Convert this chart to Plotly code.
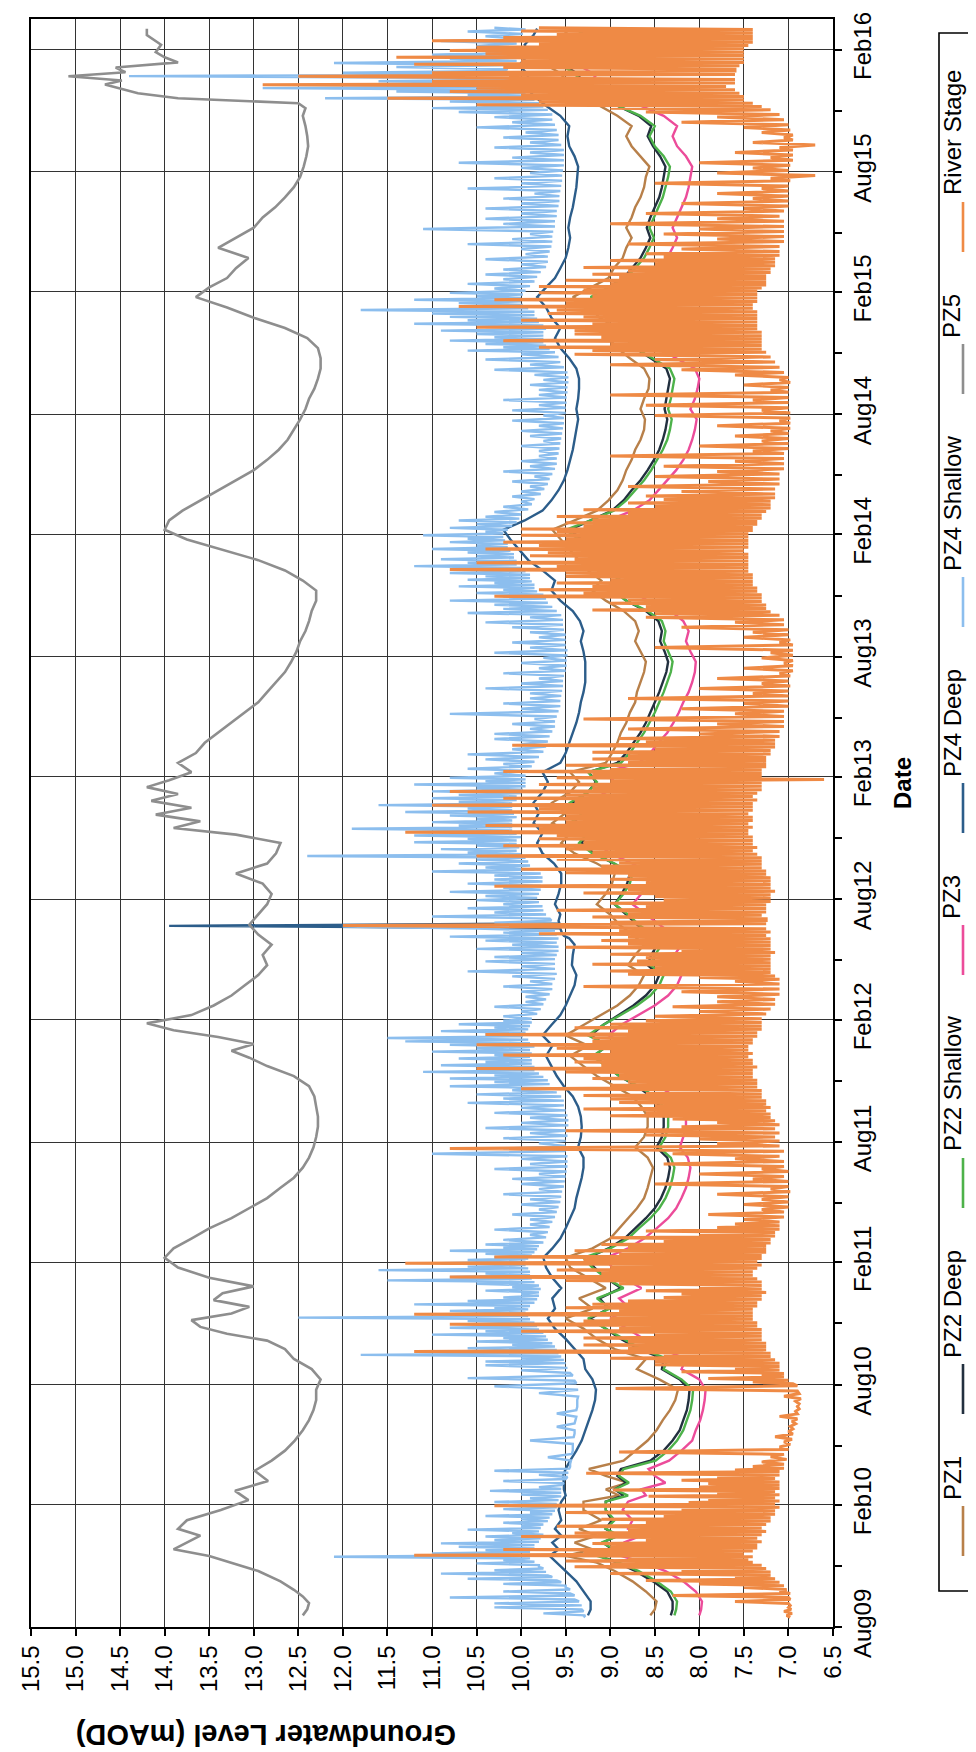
import plotly.graph_objects as go
from datetime import datetime, timedelta

# ---------------- data (one string per month) -------------
MONTHS = [
    "2009-08", "2009-09", "2009-10", "2009-11", "2009-12",
    "2010-01", "2010-02", "2010-03", "2010-04", "2010-05", "2010-06", "2010-07", "2010-08", "2010-09", "2010-10", "2010-11", "2010-12",
    "2011-01", "2011-02", "2011-03", "2011-04", "2011-05", "2011-06", "2011-07", "2011-08", "2011-09", "2011-10", "2011-11", "2011-12",
    "2012-01", "2012-02", "2012-03", "2012-04", "2012-05", "2012-06", "2012-07", "2012-08", "2012-09", "2012-10", "2012-11", "2012-12",
    "2013-01", "2013-02", "2013-03", "2013-04", "2013-05", "2013-06", "2013-07", "2013-08", "2013-09", "2013-10", "2013-11", "2013-12",
    "2014-01", "2014-02", "2014-03", "2014-04", "2014-05", "2014-06", "2014-07", "2014-08", "2014-09", "2014-10", "2014-11", "2014-12",
    "2015-01", "2015-02", "2015-03", "2015-04", "2015-05", "2015-06", "2015-07", "2015-08", "2015-09", "2015-10", "2015-11", "2015-12",
    "2016-01", "2016-02", "2016-03",
]
DATA_START = "2009-08-14"
DATA_END = "2016-03-06"

PZ1 = [
    "8.55 8.50", "8.48 8.60", "8.75 8.95", "9.15 9.50 9.20", "9.40 9.15 9.35",
    "9.10 9.30", "9.30 8.90 9.05", "8.80 9.05 9.24", "8.85 8.71", "8.58 8.48", "8.41 8.33", "8.27 8.24", "8.45 8.70", "8.60 8.95", "9.15 9.30", "9.50 9.20", "9.35 9.05",
    "9.25 9.45", "9.50 9.20", "9.00 8.90", "8.80 8.70", "8.62 8.58", "8.55 8.52", "8.58 8.72", "8.62 8.58", "8.58 8.65", "8.75 8.95", "9.15 9.30", "9.45 9.25",
    "9.50 9.30", "9.10 8.92", "8.78 8.68", "8.62 8.80", "8.72 8.62", "8.75 8.90", "9.00 9.15", "9.05 8.98", "8.95 9.15", "9.40 9.55", "9.45 9.65", "9.50 9.65",
    "9.45 9.35", "9.45 9.05", "8.98 8.92", "8.88 8.82", "8.78 8.72", "8.70 8.66", "8.62 8.60", "8.66 8.72", "8.68 8.72", "8.85 9.05", "9.20 9.10", "9.25 9.35",
    "9.45 9.55", "9.65 9.40", "9.15 9.02", "8.92 8.86", "8.82 8.76", "8.72 8.66", "8.62 8.61", "8.66 8.62", "8.57 8.56", "8.62 8.78", "8.92 9.02", "8.92 9.12",
    "9.22 9.42", "9.22 9.02", "8.96 8.86", "8.82 8.76", "8.82 8.76", "8.72 8.66", "8.62 8.60", "8.56 8.66", "8.76 8.82", "8.76 8.92", "9.12 9.42", "9.62 9.52",
    "9.72 9.56", "9.66 9.52", "9.46",
]

PZ2_DEEP = [
    "8.32 8.30", "8.30 8.36", "8.52 8.72", "8.92 9.12 8.98", "9.08 8.92 9.05",
    "8.98 9.05", "9.05 8.85 8.95", "8.82 8.92 8.88", "8.55 8.40", "8.30 8.22", "8.18 8.14", "8.12 8.11", "8.22 8.42", "8.40 8.68", "8.88 9.05", "9.22 9.02", "9.12 8.88",
    "9.05 9.18", "9.25 9.02", "8.84 8.72", "8.60 8.50", "8.43 8.38", "8.35 8.33", "8.36 8.48", "8.42 8.40", "8.40 8.44", "8.54 8.70", "8.90 9.04", "9.18 9.04",
    "9.22 9.08", "8.90 8.74", "8.60 8.50", "8.45 8.58", "8.54 8.47", "8.56 8.70", "8.82 8.95", "8.87 8.81", "8.78 8.96", "9.18 9.32", "9.24 9.42", "9.30 9.42",
    "9.25 9.16", "9.24 8.92", "8.82 8.74", "8.66 8.60", "8.55 8.50", "8.45 8.41", "8.37 8.35", "8.39 8.44", "8.42 8.46", "8.60 8.82", "8.96 8.88", "9.04 9.13",
    "9.22 9.32", "9.45 9.22", "8.98 8.85", "8.76 8.66", "8.58 8.51", "8.45 8.41", "8.38 8.36", "8.39 8.37", "8.35 8.33", "8.37 8.54", "8.72 8.82", "8.74 8.92",
    "9.00 9.18", "9.02 8.85", "8.76 8.66", "8.60 8.55", "8.59 8.55", "8.50 8.45", "8.42 8.40", "8.38 8.44", "8.52 8.58", "8.54 8.68", "8.92 9.22", "9.42 9.34",
    "9.52 9.38", "9.46 9.34", "9.30",
]

PZ2_SHALLOW = [
    "8.28 8.26", "8.25 8.32", "8.48 8.68", "8.90 9.15 8.95", "9.10 8.90 9.05",
    "8.95 9.05", "9.05 8.80 8.95", "8.79 8.90 8.85", "8.49 8.35", "8.25 8.18", "8.14 8.10", "8.08 8.07", "8.20 8.40", "8.35 8.65", "8.85 9.05", "9.25 9.00", "9.15 8.85",
    "9.05 9.20", "9.30 9.00", "8.80 8.68", "8.55 8.45", "8.38 8.33", "8.30 8.28", "8.32 8.45", "8.38 8.35", "8.35 8.40", "8.50 8.68", "8.90 9.05", "9.20 9.02",
    "9.25 9.08", "8.88 8.70", "8.55 8.45", "8.40 8.55", "8.50 8.42", "8.52 8.68", "8.80 8.95", "8.85 8.78", "8.75 8.95", "9.20 9.35", "9.25 9.45", "9.30 9.45",
    "9.25 9.15", "9.25 8.88", "8.78 8.70", "8.62 8.56", "8.50 8.45", "8.40 8.36", "8.32 8.30", "8.35 8.40", "8.38 8.42", "8.58 8.82", "8.98 8.88", "9.05 9.15",
    "9.25 9.35", "9.50 9.22", "8.96 8.82", "8.72 8.62", "8.54 8.47", "8.41 8.36", "8.33 8.31", "8.35 8.32", "8.30 8.28", "8.33 8.52", "8.72 8.82", "8.72 8.92",
    "9.02 9.22", "9.02 8.82", "8.72 8.62", "8.56 8.51", "8.56 8.51", "8.46 8.41", "8.38 8.35", "8.33 8.40", "8.50 8.56", "8.50 8.66", "8.92 9.26", "9.46 9.36",
    "9.56 9.40", "9.50 9.36", "9.30",
]

PZ3 = [
    "8.00 7.98", "7.97 8.04", "8.18 8.38", "8.62 8.88 8.70", "8.85 8.65 8.80",
    "8.75 8.86", "8.80 8.60 8.65", "8.38 8.50 8.57", "8.34 8.20", "8.08 8.04", "7.99 7.96", "7.94 7.93", "8.00 8.20", "8.15 8.42", "8.62 8.82", "9.00 8.78", "8.90 8.65",
    "8.85 8.98", "9.05 8.80", "8.62 8.48", "8.35 8.26", "8.20 8.15", "8.12 8.10", "8.13 8.22", "8.18 8.15", "8.15 8.20", "8.28 8.45", "8.68 8.82", "8.96 8.80",
    "9.02 8.88", "8.68 8.50", "8.35 8.25", "8.20 8.32", "8.28 8.20", "8.30 8.45", "8.60 8.75", "8.65 8.58", "8.55 8.75", "9.00 9.15", "9.05 9.25", "9.10 9.25",
    "9.05 8.95", "9.05 8.68", "8.55 8.46", "8.36 8.29", "8.23 8.18", "8.12 8.08", "8.05 8.04", "8.10 8.15", "8.12 8.18", "8.32 8.58", "8.76 8.66", "8.86 8.95",
    "9.05 9.15", "9.30 9.02", "8.75 8.56", "8.46 8.36", "8.26 8.18", "8.12 8.08", "8.05 8.03", "8.10 8.05", "8.02 8.00", "8.05 8.26", "8.46 8.56", "8.46 8.66",
    "8.80 9.00", "8.80 8.60", "8.46 8.36", "8.30 8.25", "8.30 8.25", "8.20 8.15", "8.12 8.10", "8.08 8.15", "8.25 8.30", "8.25 8.40", "8.66 9.06", "9.26 9.16",
    "9.36 9.20", "9.30 9.16", "9.10",
]

PZ4_DEEP = [
    "9.25 9.22", "9.22 9.30", "9.38 9.50", "9.60 9.68 9.58", "9.65 9.55 9.62",
    "9.55 9.58", "9.55 9.50 9.52", "9.52 9.53 9.50", "9.45 9.38", "9.32 9.28", "9.24 9.20", "9.17 9.16", "9.20 9.28", "9.30 9.40", "9.50 9.62", "9.70 9.62", "9.65 9.55",
    "9.65 9.72", "9.75 9.65", "9.56 9.50", "9.45 9.40", "9.38 9.35", "9.32 9.30", "9.30 9.36", "9.33 9.32", "9.33 9.36", "9.42 9.52", "9.60 9.66", "9.72 9.65",
    "9.76 9.66", "9.56 9.50", "9.45 9.40", "9.38 9.43", "9.42 9.40", "9.46 9.52 9.54 9.55 9.56 13.95 9.57 9.58", "9.56 9.62", "9.58 9.55", "9.55 9.63", "9.76 9.82", "9.76 9.86", "9.80 9.86",
    "9.76 9.70", "9.76 9.56", "9.50 9.46", "9.42 9.38", "9.35 9.33", "9.30 9.28", "9.28 9.28", "9.30 9.33", "9.30 9.34", "9.42 9.56", "9.66 9.62", "9.76 9.92",
    "10.02 10.12", "10.20 9.96", "9.76 9.66", "9.58 9.52", "9.48 9.45", "9.42 9.40", "9.38 9.36", "9.38 9.36", "9.35 9.35", "9.38 9.46", "9.56 9.62", "9.56 9.66",
    "9.72 9.82", "9.72 9.62", "9.56 9.50", "9.47 9.45", "9.47 9.45", "9.42 9.40", "9.38 9.37", "9.36 9.40", "9.46 9.48", "9.46 9.56", "9.72 9.86", "9.96 9.92",
    "10.02 9.92", "9.96 9.86", "9.82",
]

PZ4_SHALLOW = [
    "9.30 9.28 9.75 9.30 9.32 10.30",
    "9.32 10.30 9.35 9.40 10.80 9.40 9.45 10.20 9.45 9.50",
    "9.50 10.20 9.55 9.60 10.60 9.65 9.70 10.90 9.72 10.30 9.75 9.80",
    "9.80 10.50 9.85 10.20 9.90 12.10 9.95 11.00 9.90 10.40 9.85 10.70",
    "9.85 10.90 9.80 10.30 9.78 10.40 9.75 10.10 9.80 10.60 9.78 10.00",
    # 2010
    "9.75 10.20 9.70 10.00 9.68 10.40 9.65 9.90 9.62 10.20 9.60 9.80",
    "9.60 10.30 9.58 9.90 9.55 10.00 9.55 10.35 9.55 9.80",
    "9.55 9.52 10.20 9.50 9.48 9.80 9.47 10.30 9.46 9.45",
    "9.45 9.44 9.70 9.43 9.42 9.42",
    "9.42 9.90 9.41 9.40 9.40 9.60",
    "9.40 9.39 9.38 9.60 9.38 9.37",
    "9.37 9.37 9.36 9.80 9.36 10.30",
    "9.38 9.40 10.60 9.42 9.45 10.00 9.48 10.40",
    "9.50 10.40 9.52 10.00 9.55 11.80 9.58 10.30 9.60 10.60 9.62 10.10",
    "9.65 10.50 9.70 10.20 9.72 11.00 9.75 10.40 9.80 10.80 9.82 10.30",
    "9.85 10.60 9.90 12.50 9.92 10.40 9.95 10.80 9.92 10.30 9.90 11.20",
    "9.85 10.60 9.82 10.20 9.80 10.00 9.80 10.40 9.78 10.10 9.80 10.50",
    # 2011
    "9.85 11.50 9.88 10.80 9.90 10.40 9.90 11.60 9.92 10.60 9.95 10.90",
    "9.95 10.60 9.92 10.30 9.88 10.40 9.85 10.80 9.82 10.20 9.80 10.40",
    "9.75 10.20 9.72 9.90 9.70 10.30 9.68 9.90",
    "9.65 9.90 9.62 10.10 9.60 9.80 9.58 10.00",
    "9.56 9.90 9.55 10.20 9.54 9.80 9.52 10.00",
    "9.51 10.10 9.50 9.80 9.49 10.30 9.48 9.90",
    "9.48 10.00 9.48 11.00 9.50 10.20 9.50 9.80",
    "9.50 10.20 9.48 9.90 9.47 10.40 9.47 10.00",
    "9.47 9.90 9.48 10.30 9.50 10.00 9.52 10.60",
    "9.52 10.20 9.55 10.50 9.60 10.10 9.65 10.80 9.68 10.30",
    "9.70 10.80 9.75 10.30 9.80 11.10 9.85 10.50 9.85 10.90 9.88 10.40",
    "9.88 10.70 9.90 10.30 9.88 11.00 9.90 10.50 9.85 10.80 9.90 11.30",
    # 2012
    "9.92 11.50 9.98 10.40 9.95 10.90 9.92 10.30 9.90 10.70 9.88 10.20",
    "9.88 10.20 9.82 10.00 9.78 10.30 9.75 9.95",
    "9.72 9.95 9.68 10.00 9.65 10.20 9.65 9.90",
    "9.62 10.10 9.60 10.60 9.62 10.00 9.62 10.40",
    "9.62 10.30 9.60 10.00 9.58 10.50 9.58 10.10 9.60 10.40",
    "9.58 10.80 9.60 10.20 9.62 10.50 12.00 9.64 10.30 9.66",
    "9.68 11.00 9.72 10.30 9.75 10.60 9.76 10.20 9.80 10.50",
    "9.82 10.40 9.80 10.80 9.78 10.20 9.78 10.60 9.76 10.30",
    "9.76 10.30 9.78 11.00 9.85 10.40 9.90 10.70 9.92 10.50",
    "9.95 12.40 10.00 10.60 10.05 10.90 10.02 10.50 10.05 11.20 10.05 10.60",
    "10.00 11.20 10.05 10.60 10.10 11.90 10.10 10.70 10.10 11.00 10.10 10.50",
    "10.05 10.80 10.08 11.30 10.10 10.60 10.10 11.60 10.10 10.70 10.05 11.00",
    # 2013
    "10.05 10.70 10.00 11.00 9.98 10.50 9.95 11.20 9.95 10.40 9.95 10.80",
    "9.95 10.30 9.92 10.60 9.88 10.20 9.85 10.40",
    "9.80 10.60 9.75 10.10 9.72 10.00 9.70 10.30",
    "9.68 10.30 9.65 9.90 9.62 10.10 9.62 9.85",
    "9.60 10.80 9.58 10.00 9.56 10.20 9.56 9.90",
    "9.55 9.90 9.54 10.40 9.53 10.00 9.53 9.80",
    "9.52 10.20 9.50 9.80 9.49 10.00 9.49 9.75",
    "9.48 10.30 9.48 9.90 9.50 10.10 9.50 9.80",
    "9.50 9.90 9.52 10.10 9.53 10.40 9.53 9.90",
    "9.55 10.60 9.60 10.20 9.65 10.30 9.70 10.80 9.72 10.20",
    "9.75 10.50 9.82 10.20 9.85 10.70 9.85 10.30 9.88 10.60 9.90 10.40",
    "9.90 10.80 9.95 10.40 10.00 11.20 10.05 10.60 10.05 10.90 10.08 10.50",
    # 2014
    "10.08 10.60 10.12 11.00 10.15 10.50 10.15 10.80 10.18 10.60 10.20 11.10",
    "10.20 10.40 10.15 10.80 10.10 10.50 10.05 10.70 10.02 10.40",
    "10.00 10.30 9.92 10.20 9.88 10.00 9.85 10.10",
    "9.78 10.00 9.74 9.90 9.70 10.10 9.68 9.85",
    "9.65 10.20 9.62 9.90 9.60 10.00 9.60 9.80",
    "9.58 9.80 9.57 10.00 9.56 9.75 9.55 9.90",
    "9.54 10.00 9.53 9.80 9.52 10.10 9.52 9.75",
    "9.50 10.10 9.50 9.80 9.49 10.20 9.49 9.80",
    "9.48 9.80 9.48 9.90 9.47 9.75 9.47 9.85",
    "9.48 10.30 9.52 9.90 9.56 10.40 9.58 10.00",
    "9.62 10.60 9.68 10.20 9.72 10.40 9.75 10.80 9.75 10.30 9.75 10.50",
    "9.75 10.90 9.72 10.40 9.75 11.20 9.80 10.60 9.82 10.80 9.85 11.00",
    # 2015
    "9.85 11.80 9.92 10.60 9.98 10.70 10.00 11.20 10.00 10.50 9.98 10.80",
    "9.95 10.30 9.90 10.60 9.85 10.20 9.82 10.40",
    "9.78 10.20 9.72 10.00 9.70 10.40 9.70 9.95",
    "9.68 10.00 9.66 10.60 9.65 10.10 9.65 9.90",
    "9.64 11.10 9.62 10.20 9.62 10.40 9.60 10.00",
    "9.60 10.40 9.58 10.00 9.57 10.20 9.57 9.85",
    "9.56 10.60 9.55 10.00 9.54 10.30 9.54 9.90",
    "9.53 10.00 9.52 10.70 9.52 10.10 9.52 9.90",
    "9.52 10.30 9.55 9.90 9.58 10.20 9.58 9.95",
    "9.60 10.50 9.62 10.10 9.65 10.30 9.65 10.70",
    "9.70 11.00 9.75 10.50 9.80 10.80 9.85 12.20 9.90 10.60 9.95 11.40",
    "10.00 12.90 10.05 11.00 10.05 11.60 10.10 10.80 14.40 10.15 12.00 10.20",
    # 2016
    "10.15 11.40 10.10 12.10 10.05 10.80 10.05 11.00 10.05 10.60",
    "10.08 10.50 10.05 10.90 10.00 10.40 9.98 10.60",
    "9.95 10.30",
]

PZ5 = [
    "12.45 12.40", "12.38 12.45 12.55", "12.70 12.95", "13.25 13.50 13.90", "13.75 13.60 13.85",
    "13.75 13.37", "13.06 13.21", "12.84 12.99", "12.80 12.65", "12.54 12.45", "12.38 12.33", "12.30 12.30", "12.25 12.35", "12.55 12.65", "12.85 13.30 13.60", "13.70 13.25 13.05", "13.45 13.35 13.00",
    "13.50 13.85", "14.00 13.90", "13.70 13.50", "13.25 13.05", "12.85 12.70", "12.55 12.45", "12.38 12.33", "12.30 12.28", "12.28 12.30", "12.32 12.38", "12.55 12.85", "13.05 13.25 13.00",
    "13.40 13.90 14.20", "13.70 13.45", "13.25 13.10", "12.95 12.85", "12.90 12.80", "12.95 13.05", "12.95 12.85", "12.80 12.90", "13.20 12.85", "12.75 12.70", "13.20 13.90 13.60", "14.10 13.70 14.15",
    "13.85 14.20 13.95", "13.70 13.85", "13.65 13.55", "13.40 13.25", "13.10 12.95", "12.85 12.75", "12.65 12.58", "12.52 12.48", "12.42 12.38", "12.35 12.30", "12.30 12.45", "12.65 12.95",
    "13.35 13.75", "14.00 13.95", "13.80 13.60", "13.40 13.20", "13.00 12.85", "12.72 12.62", "12.55 12.48", "12.42 12.38", "12.32 12.28", "12.25 12.25", "12.28 12.40", "12.65 13.00",
    "13.30 13.65", "13.50 13.30", "13.20 13.06", "13.40 13.20", "13.00 12.90", "12.76 12.65", "12.55 12.48", "12.44 12.41", "12.39 12.40", "12.42 12.45", "12.42 12.50 13.85 14.30", "14.48 14.67 14.48 15.08 14.44",
    "14.55 13.85 14.00 14.10", "14.04 14.20", "14.20",
]

RIVER_STAGE = [
    "6.98 7.02 6.96 7.05 6.97 7.00",
    "6.98 7.00 7.60 6.98 7.00 8.30 6.98 7.10 7.02 7.50",
    "7.05 8.00 7.10 8.60 7.15 7.60 7.20 9.00 7.20 8.20 7.25 9.40",
    "7.30 9.00 7.40 9.50 7.45 8.80 7.40 11.20 7.50 9.30 7.40 10.20 7.35 9.00",
    "7.35 9.20 7.30 8.60 7.35 10.00 7.30 9.40 7.25 8.80 7.30 9.60",
    # 2010
    "7.25 8.60 7.20 9.10 7.20 8.40 7.15 9.50 7.15 8.20 7.10 10.30",
    "7.15 8.12 7.10 7.90 7.15 8.57 7.10 7.80 7.15 8.97 7.10 8.00",
    "7.10 7.90 7.10 8.20 7.15 7.80 7.10 9.27 7.10 7.60 7.05 7.40",
    "7.05 7.30 7.02 7.20 7.05 8.90 7.00 7.10",
    "6.98 7.05 6.96 7.15 6.95 7.00 6.95 6.98",
    "6.92 6.96 6.90 7.10 6.90 6.92 6.88 6.90",
    "6.88 6.92 6.86 7.05 6.88 6.90 8.94 6.90",
    "6.95 7.40 7.00 7.90 7.05 7.30 7.05 8.20 7.10 7.60 7.10 8.50",
    "7.10 8.50 7.15 9.00 7.20 8.40 7.20 11.20 7.25 8.80 7.25 9.30",
    "7.25 8.80 7.30 9.30 7.30 8.50 7.30 10.00 7.30 8.90 7.35 10.80",
    "7.35 9.30 7.40 9.00 7.40 11.20 7.40 8.90 7.40 9.50 7.35 9.20",
    "7.35 8.80 7.30 8.40 7.30 8.20 7.25 8.60 7.30 8.00 7.30 8.90",
    # 2011
    "7.30 9.50 7.35 10.80 7.40 9.10 7.40 9.60 7.35 9.00 7.30 11.30",
    "7.35 9.30 7.30 10.30 7.30 8.90 7.25 9.40 7.25 8.80 7.25 9.10",
    "7.20 8.40 7.20 9.00 7.15 8.00 7.15 8.60 7.10 7.80 7.10 7.60",
    "7.10 7.50 7.05 7.90 7.05 7.30 7.00 7.50",
    "7.00 7.30 7.00 7.80 6.98 7.20 7.00 8.50",
    "7.00 7.40 7.05 8.00 7.00 7.30 7.05 8.40",
    "7.05 7.60 7.10 8.30 7.05 10.80 7.10 7.80",
    "7.10 8.00 7.15 8.60 7.10 9.50 7.15 8.20 7.10 7.80",
    "7.15 8.30 7.20 9.00 7.20 8.60 7.25 9.30 7.20 8.50 7.25 8.90",
    "7.25 9.00 7.30 9.30 7.30 8.60 7.30 10.00 7.35 9.00 7.35 8.80",
    "7.35 9.20 7.40 8.90 7.40 9.50 7.40 10.50 7.35 9.10 7.40 9.40",
    "7.40 9.30 7.45 10.20 7.40 9.00 7.45 9.60 7.45 10.50 7.40 9.20",
    # 2012
    "7.40 9.20 7.35 10.40 7.35 8.80 7.30 9.40 7.30 9.00 7.30 8.60",
    "7.30 8.50 7.25 8.00 7.20 8.30 7.15 7.80",
    "7.15 7.80 7.10 8.20 7.10 9.30 7.10 7.60",
    "7.10 8.00 7.15 8.80 7.20 9.00 7.20 8.50 7.20 9.20 7.20 8.70",
    "7.20 8.60 7.20 9.00 7.15 8.20 7.20 9.50 7.20 8.80 7.20 9.10",
    "7.20 8.80 7.25 9.80 7.20 8.90 7.25 9.20 12.00 7.25 9.00 7.25",
    "7.25 9.20 7.30 8.80 7.25 9.60 7.25 8.60 7.25 9.00 7.20 8.40",
    "7.20 8.50 7.20 9.30 7.15 8.80 7.20 10.30 7.20 8.60 7.20 9.00",
    "7.20 8.80 7.25 9.50 7.25 10.00 7.30 9.10 7.30 8.90 7.30 9.60",
    "7.30 10.50 7.35 9.20 7.40 9.50 7.35 10.20 7.40 9.30 7.40 9.80",
    "7.40 9.60 7.45 11.30 7.45 9.80 7.40 10.40 7.45 9.50 7.40 10.00",
    "7.40 9.50 7.45 10.60 7.40 9.80 7.40 11.00 7.40 9.40 7.35 10.20",
    # 2013
    "7.40 9.50 7.35 10.80 7.30 9.20 7.30 9.80 7.30 9.00 6.60 9.60",
    "7.30 9.20 7.30 10.20 7.30 9.00 7.25 9.50 7.25 8.80 7.25 9.20",
    "7.25 8.80 7.20 9.20 7.20 8.50 7.15 10.10 7.15 8.60 7.15 8.90",
    "7.10 8.00 7.10 8.80 7.05 7.80 7.05 9.30",
    "7.05 7.60 7.05 8.20 7.00 7.50 7.00 8.80",
    "7.00 7.40 7.00 8.00 6.98 7.30 7.00 7.80",
    "6.98 7.10 6.95 7.50 6.95 7.05 6.95 7.30",
    "6.95 7.20 6.95 8.50 6.95 7.10 6.98 7.50",
    "7.00 7.40 7.00 8.20 7.05 7.60 7.05 8.60",
    "7.10 8.50 7.20 9.20 7.25 8.60 7.25 9.00 7.30 8.80 7.30 10.30",
    "7.30 9.30 7.35 9.80 7.35 9.20 7.40 9.60 7.40 9.00 7.40 9.50",
    "7.40 9.50 7.45 10.80 7.45 9.60 7.45 10.50 7.45 9.40 7.45 9.90",
    # 2014
    "7.45 9.70 7.50 10.40 7.45 9.80 7.45 10.20 7.45 9.50 7.45 10.00",
    "7.45 9.60 7.40 10.00 7.40 9.30 7.35 9.50 7.35 9.20 7.30 9.60",
    "7.30 8.80 7.25 9.30 7.20 8.50 7.20 8.80 7.20 8.40 7.15 8.60",
    "7.15 8.20 7.15 8.80 7.10 7.90 7.10 8.50",
    "7.10 7.80 7.05 8.40 7.05 7.60 7.05 9.00",
    "7.05 7.40 7.00 8.00 7.00 7.30 7.00 7.60",
    "7.00 7.20 6.98 7.80 6.98 7.10 6.98 8.50",
    "6.98 7.30 7.00 8.60 7.00 7.40 7.00 9.00",
    "7.00 7.20 7.00 7.50 6.98 7.10 7.00 7.60",
    "7.05 8.20 7.10 9.00 7.15 8.50 7.20 9.40",
    "7.25 9.20 7.30 9.80 7.30 9.00 7.30 10.20 7.30 9.10 7.30 9.40",
    "7.30 9.40 7.35 10.50 7.35 9.20 7.35 10.00 7.35 9.30 7.35 9.70",
    # 2015
    "7.35 9.60 7.40 10.70 7.40 9.50 7.35 10.30 7.35 9.20 7.35 9.80",
    "7.35 9.30 7.30 9.80 7.25 9.00 7.25 9.50 7.25 8.90 7.25 9.20",
    "7.20 8.80 7.20 9.30 7.15 8.50 7.15 9.00 7.15 8.40 7.10 8.60",
    "7.10 8.20 7.10 8.80 7.05 7.80 7.05 8.40",
    "7.05 8.00 7.05 9.00 7.05 7.80 7.10 8.60",
    "7.05 7.50 7.00 8.20 7.00 7.40 7.00 7.80",
    "7.00 7.30 7.00 8.50 6.98 7.20 6.70 7.80",
    "7.00 7.40 6.98 8.00 6.95 7.20 6.95 7.60",
    "6.95 7.10 6.70 7.40 6.95 7.05 6.95 7.30",
    "6.98 7.50 7.00 8.20 7.05 7.80 7.10 8.60",
    "7.20 9.00 7.30 10.50 7.40 9.80 7.50 11.50 7.50 10.00 7.55 10.80",
    "7.60 10.50 7.70 12.90 7.60 11.00 7.60 10.20 12.50 7.60 11.00 7.60",
    # 2016
    "7.60 10.20 7.55 11.20 7.50 10.00 7.50 11.40 7.50 10.40 7.50 10.80",
    "7.50 10.50 7.45 9.80 7.40 11.00 7.40 10.20 7.40 9.60 7.40 10.00",
    "7.40 9.80",
]

SERIES_NAMES = ["PZ1", "PZ2 Deep", "PZ2 Shallow", "PZ3", "PZ4 Deep", "PZ4 Shallow", "PZ5", "River Stage"]
SERIES_DATA = [PZ1, PZ2_DEEP, PZ2_SHALLOW, PZ3, PZ4_DEEP, PZ4_SHALLOW, PZ5, RIVER_STAGE]
SERIES_COLORS = ["#B8804A", "#22303F", "#4DB24A", "#EC4C9A", "#2C5D8A", "#8CBEEE", "#8E8E8E", "#EF8A45"]
SERIES_WIDTHS = [2.4, 2.4, 2.4, 2.4, 2.4, 2.4, 2.6, 3.0]

Y_TICKS = [15.5, 15.0, 14.5, 14.0, 13.5, 13.0, 12.5, 12.0, 11.5, 11.0, 10.5, 10.0, 9.5, 9.0, 8.5, 8.0, 7.5, 7.0, 6.5]
DATE_TICKS = ["2009-08-01", "2010-02-01", "2010-08-01", "2011-02-01", "2011-08-01", "2012-02-01", "2012-08-01",
              "2013-02-01", "2013-08-01", "2014-02-01", "2014-08-01", "2015-02-01", "2015-08-01", "2016-02-01"]
DATE_LABELS = ["Aug09", "Feb10", "Aug10", "Feb11", "Aug11", "Feb12", "Aug12", "Feb13", "Aug13", "Feb14", "Aug14",
               "Feb15", "Aug15", "Feb16"]
DATE_MINOR = ["2009-11-01", "2010-05-01", "2010-11-01", "2011-05-01", "2011-11-01", "2012-05-01", "2012-11-01",
              "2013-05-01", "2013-11-01", "2014-05-01", "2014-11-01", "2015-05-01", "2015-11-01"]


# ---------------- helpers ----------------
def expand(month_strings):
    assert len(month_strings) == len(MONTHS), len(month_strings)
    ds = datetime.fromisoformat(DATA_START)
    de = datetime.fromisoformat(DATA_END)
    xs, ts = [], []
    for m, s in zip(MONTHS, month_strings):
        vals = [float(v) for v in s.split()]
        yy, mm = int(m[:4]), int(m[5:])
        start = datetime(yy, mm, 1)
        end = datetime(yy + (mm == 12), mm % 12 + 1, 1)
        start = max(start, ds)
        end = min(end, de)
        span = (end - start).total_seconds()
        for i, v in enumerate(vals):
            ts.append(start + timedelta(seconds=(i + 0.5) * span / len(vals)))
            xs.append(v)
    return xs, ts


# plot area in pixels
L, R, T, B = 23, 825, 11, 1619
W, H = 976, 1752


def px(x):
    return (x - L) / (R - L)


def py(y):
    return (B - y) / (B - T)


FONT = "Liberation Sans, Arial, sans-serif"

fig = go.Figure()
for name, data, col, lw in zip(SERIES_NAMES, SERIES_DATA, SERIES_COLORS, SERIES_WIDTHS):
    xs, ts = expand(data)
    fig.add_trace(go.Scatter(x=xs, y=ts, mode="lines", name=name,
                             line=dict(color=col, width=lw), showlegend=False, hoverinfo="skip"))

fig.update_layout(
    width=W, height=H,
    margin=dict(l=L, r=W - R, t=T, b=H - B, pad=0, autoexpand=False),
    paper_bgcolor="white", plot_bgcolor="white",
    font=dict(family=FONT, size=24, color="black"),
    showlegend=False,
)

fig.update_xaxes(
    range=[15.5, 6.5], tickmode="array", tickvals=Y_TICKS, ticktext=[f"{v:.1f}" for v in Y_TICKS],
    tickangle=-90, ticks="outside", ticklen=7, tickwidth=1.5, tickcolor="black",
    showgrid=True, gridcolor="#333333", gridwidth=1.3, zeroline=False,
    showline=True, linecolor="black", linewidth=1.6, mirror=True,
    tickfont=dict(family=FONT, size=24, color="black"), automargin=False,
)
fig.update_yaxes(
    type="date", range=["2009-08-01", "2016-03-18"], side="right",
    tickmode="array", tickvals=DATE_TICKS, ticktext=DATE_LABELS, tickangle=-90,
    ticks="outside", ticklen=7, tickwidth=1.5, tickcolor="black",
    minor=dict(tickmode="array", tickvals=DATE_MINOR, ticks="outside", ticklen=7, tickwidth=1.5,
               tickcolor="black", showgrid=False),
    showgrid=True, gridcolor="#333333", gridwidth=1.3, zeroline=False,
    showline=True, linecolor="black", linewidth=1.6, mirror=True,
    tickfont=dict(family=FONT, size=24, color="black"), automargin=False,
)

# axis titles (the whole chart is shown rotated)
fig.add_annotation(text="<b>Date</b>", x=px(894), y=py(775), xref="paper", yref="paper",
                   xanchor="center", yanchor="middle", textangle=-90, showarrow=False,
                   font=dict(family=FONT, size=24, color="black"))
fig.add_annotation(text="<b>Groundwater Level (mAOD)</b>", x=px(258), y=py(1727), xref="paper", yref="paper",
                   xanchor="center", yanchor="middle", textangle=180, showarrow=False,
                   font=dict(family=FONT, size=29, color="black"))

# legend drawn rotated (sample line below its label)
LEG_SAMPLE = [(1548, 1498), (1406, 1356), (1200, 1150), (967, 917), (825, 775), (619, 569), (386, 336), (244, 194)]
LEG_TEXT_Y = [1470, 1296, 1076, 889, 715, 496, 308, 125]
fig.add_shape(type="rect", xref="paper", yref="paper", x0=px(931), x1=px(975), y0=py(1583), y1=py(25),
              line=dict(color="black", width=1.6))
for name, col, (s0, s1), ty in zip(SERIES_NAMES, SERIES_COLORS, LEG_SAMPLE, LEG_TEXT_Y):
    fig.add_shape(type="line", xref="paper", yref="paper", x0=px(955), x1=px(955), y0=py(s0), y1=py(s1),
                  line=dict(color=col, width=2.6))
    fig.add_annotation(text=name, x=px(944), y=py(ty), xref="paper", yref="paper", textangle=-90,
                       xanchor="center", yanchor="middle", showarrow=False,
                       font=dict(family=FONT, size=24, color="black"))

fig.write_html("out.html")
